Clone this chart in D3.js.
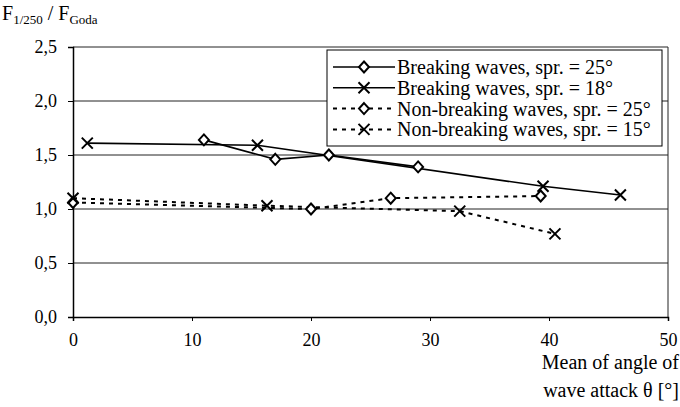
<!DOCTYPE html>
<html>
<head>
<meta charset="utf-8">
<script src="https://cdn.jsdelivr.net/npm/d3@7"></script>
<style>
  body { margin: 0; background: #fff; }
  svg { font-family: "Liberation Serif", "DejaVu Serif", serif; }
</style>
</head>
<body>
<div id="chart"></div>
<script>
// ------------------------------------------------------------------
// Data
// ------------------------------------------------------------------
var seriesNames = [
    "Breaking waves, spr. = 25\u00b0",
    "Breaking waves, spr. = 18\u00b0",
    "Non-breaking waves, spr. = 25\u00b0",
    "Non-breaking waves, spr. = 15\u00b0"
];
var breaking25X = [11, 17, 21.5, 29];
var breaking25Y = [1.64, 1.46, 1.50, 1.39];
var breaking18X = [1.2, 15.5, 39.5, 46];
var breaking18Y = [1.61, 1.59, 1.21, 1.13];
var nonBreaking25X = [0, 20, 26.7, 39.3];
var nonBreaking25Y = [1.06, 1.00, 1.10, 1.12];
var nonBreaking15X = [0, 16.3, 32.5, 40.5];
var nonBreaking15Y = [1.10, 1.03, 0.98, 0.77];
var xTicks = [0, 10, 20, 30, 40, 50];
var yTicks = [0, 0.5, 1.0, 1.5, 2.0, 2.5];

var W = 680, H = 407;
var margin = { top: 47, right: 12, bottom: 90, left: 73 };
var width = W - margin.left - margin.right,
    height = H - margin.top - margin.bottom;

var x = d3.scaleLinear().domain([0, 50]).range([0, width]);
var y = d3.scaleLinear().domain([0, 2.5]).range([height, 0]);
var fmt = function(v) { return d3.format(".1f")(v).replace(".", ","); };

var series = [
    { name: seriesNames[0], xs: breaking25X, ys: breaking25Y, marker: "diamond", dash: null },
    { name: seriesNames[1], xs: breaking18X, ys: breaking18Y, marker: "cross", dash: null },
    { name: seriesNames[2], xs: nonBreaking25X, ys: nonBreaking25Y, marker: "diamond", dash: "4,5" },
    { name: seriesNames[3], xs: nonBreaking15X, ys: nonBreaking15Y, marker: "cross", dash: "4,5" }
];

var svg = d3.select("#chart").append("svg")
    .attr("width", W)
    .attr("height", H);

var g = svg.append("g")
    .attr("transform", "translate(" + margin.left + "," + margin.top + ")");

// gridlines
g.selectAll(".grid").data(yTicks.filter(function(d) { return d > 0; }))
    .enter().append("line")
    .attr("x1", 0).attr("x2", width)
    .attr("y1", function(d) { return y(d); })
    .attr("y2", function(d) { return y(d); })
    .attr("stroke", "#222").attr("stroke-width", 1);

// right border
g.append("line")
    .attr("x1", width).attr("x2", width)
    .attr("y1", 0).attr("y2", height)
    .attr("stroke", "#222").attr("stroke-width", 1);

// axes
var yAxis = g.append("g")
    .call(d3.axisLeft(y).tickValues(yTicks).tickFormat(fmt).tickSize(5).tickPadding(11));
var xAxis = g.append("g")
    .attr("transform", "translate(0," + height + ")")
    .call(d3.axisBottom(x).tickValues(xTicks).tickSize(4).tickPadding(12));

[yAxis, xAxis].forEach(function(a) {
    a.select(".domain").attr("stroke", "#000").attr("stroke-width", 1.5);
    a.selectAll(".tick line").attr("stroke", "#000");
    a.selectAll("text").attr("font-size", 18).attr("fill", "#000")
        .attr("font-family", "Liberation Serif");
});

// markers
function drawMarker(sel, type) {
    if (type === "diamond") {
        sel.append("path")
            .attr("d", "M0,-5.5L5,0L0,5.5L-5,0Z")
            .attr("fill", "#fff").attr("stroke", "#000").attr("stroke-width", 2);
    } else {
        sel.append("path")
            .attr("d", "M-5.5,-5.5L5.5,5.5M-5.5,5.5L5.5,-5.5")
            .attr("fill", "none").attr("stroke", "#000").attr("stroke-width", 2);
    }
}

var line = d3.line()
    .x(function(d) { return x(d[0]); })
    .y(function(d) { return y(d[1]); });

series.forEach(function(s) {
    var pts = s.xs.map(function(v, i) { return [v, s.ys[i]]; });
    g.append("path")
        .datum(pts)
        .attr("d", line)
        .attr("fill", "none")
        .attr("stroke", "#000")
        .attr("stroke-width", s.dash ? 2 : 1.6)
        .attr("stroke-dasharray", s.dash);
});

series.forEach(function(s) {
    var pts = s.xs.map(function(v, i) { return [v, s.ys[i]]; });
    g.selectAll(null).data(pts).enter().append("g")
        .attr("transform", function(d) { return "translate(" + x(d[0]) + "," + y(d[1]) + ")"; })
        .each(function() { drawMarker(d3.select(this), s.marker); });
});

// legend
var legend = svg.append("g").attr("transform", "translate(327,50)");
legend.append("rect")
    .attr("width", 335).attr("height", 96)
    .attr("fill", "#fff").attr("stroke", "#000").attr("stroke-width", 1);

var rows = legend.selectAll(".row").data(series).enter().append("g")
    .attr("transform", function(d, i) { return "translate(0," + (17 + i * 20.8) + ")"; });
rows.append("line")
    .attr("x1", 6).attr("x2", 68)
    .attr("stroke", "#000")
    .attr("stroke-width", function(d) { return d.dash ? 2 : 1.6; })
    .attr("stroke-dasharray", function(d) { return d.dash; });
rows.append("g").attr("transform", "translate(37,0)")
    .each(function(d) { drawMarker(d3.select(this), d.marker); });
rows.append("text")
    .attr("x", 70).attr("dy", "0.35em")
    .attr("font-size", 20)
    .text(function(d) { return d.name; });

// y title
var yTitle = svg.append("text")
    .attr("x", 2).attr("y", 20)
    .attr("font-size", 20);
yTitle.append("tspan").text("F");
yTitle.append("tspan").attr("font-size", 13).attr("dy", 4).text("1/250");
yTitle.append("tspan").attr("dy", -4).text(" / F");
yTitle.append("tspan").attr("font-size", 13).attr("dy", 4).text("Goda");

// x title
svg.append("text")
    .attr("x", W - 1).attr("y", 369)
    .attr("text-anchor", "end").attr("font-size", 20)
    .text("Mean of angle of");
svg.append("text")
    .attr("x", W - 1).attr("y", 397)
    .attr("text-anchor", "end").attr("font-size", 20)
    .text("wave attack \u03b8 [\u00b0]");
</script>
</body>
</html>
